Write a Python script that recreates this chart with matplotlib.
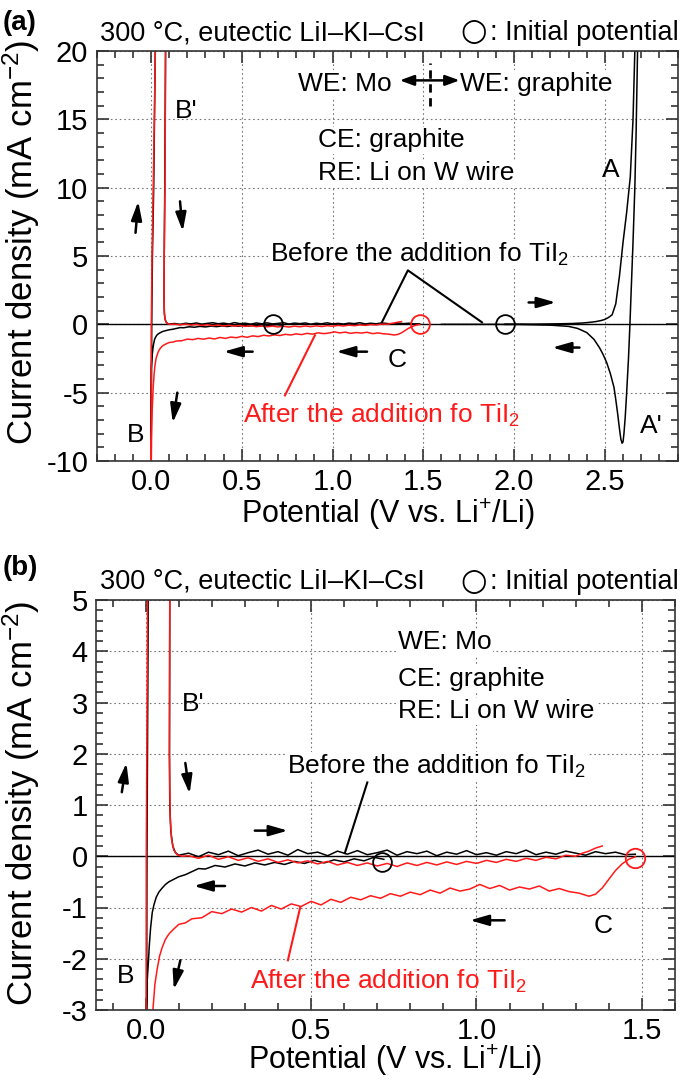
import numpy as np
import matplotlib
matplotlib.use('Agg')
import matplotlib.pyplot as plt
from matplotlib.ticker import MultipleLocator, FormatStrFormatter

plt.rcParams['font.family'] = ['Liberation Sans', 'DejaVu Sans']
plt.rcParams['mathtext.fontset'] = 'custom'
plt.rcParams['mathtext.rm'] = 'Liberation Sans'
plt.rcParams['mathtext.it'] = 'Liberation Sans:italic'
plt.rcParams['mathtext.bf'] = 'Liberation Sans:bold'
plt.rcParams['axes.unicode_minus'] = False

# ---- data (V vs. Li+/Li, mA cm-2) ----
# Mo electrode before TiI2 (black): cathodic branch from initial potential
mo0_lo_v = [0.72, 0.69, 0.66, 0.63, 0.60, 0.57, 0.54, 0.51, 0.48, 0.45, 0.42, 0.39, 0.36, 0.33, 0.30,
            0.27, 0.24, 0.21, 0.18, 0.16, 0.14, 0.12, 0.10, 0.085, 0.07, 0.06, 0.05, 0.04, 0.032, 0.025,
            0.02, 0.015, 0.011, 0.008, 0.005, 0.002, 0.0]
mo0_lo_i = [-0.06, -0.02, -0.09, -0.05, -0.11, -0.07, -0.13, -0.08, -0.14, -0.10, -0.16, -0.12, -0.17, -0.13, -0.19,
            -0.15, -0.21, -0.18, -0.25, -0.24, -0.30, -0.36, -0.40, -0.45, -0.50, -0.55, -0.62, -0.70, -0.80, -0.95,
            -1.10, -1.40, -1.75, -2.10, -2.40, -3.20, -12.0]
# Li deposition / stripping loop near 0 V
mo0_turn_v = [0.004, 0.008, 0.015, 0.022, 0.027, 0.085, 0.080, 0.076, 0.073, 0.072, 0.073, 0.076, 0.082, 0.09]
mo0_turn_i = [0.0, 5.0, 10.0, 18.0, 25.0, 25.0, 20.0, 10.0, 5.0, 2.0, 1.0, 0.5, 0.2, 0.07]
# anodic branch
mo0_up_v = [0.10, 0.13, 0.16, 0.19, 0.22, 0.25, 0.28, 0.31, 0.34, 0.37, 0.40, 0.43, 0.46, 0.49, 0.52, 0.55,
            0.58, 0.61, 0.64, 0.67, 0.70, 0.73, 0.76, 0.79, 0.82, 0.85, 0.88, 0.91, 0.94, 0.97, 1.00, 1.03,
            1.06, 1.09, 1.12, 1.15, 1.18, 1.21, 1.24, 1.27, 1.30, 1.33, 1.36, 1.39, 1.42, 1.45, 1.48]
mo0_up_i = [0.02, 0.06, -0.01, 0.08, 0.03, 0.10, 0.01, 0.07, 0.12, 0.04, 0.09, 0.02, 0.13, 0.05, 0.08, 0.01,
            0.10, 0.04, 0.11, 0.03, 0.07, 0.12, 0.02, 0.09, 0.05, 0.10, 0.01, 0.08, 0.04, 0.11, 0.03, 0.07,
            0.02, 0.09, 0.05, 0.12, 0.03, 0.08, 0.04, 0.10, 0.06, 0.02, 0.09, 0.05, 0.08, 0.03, 0.04]

# Mo electrode after TiI2 (red)
mo1_lo_v = [1.48, 1.46, 1.44, 1.42, 1.40, 1.38, 1.36, 1.34, 1.31, 1.28, 1.25, 1.22, 1.19, 1.16, 1.13, 1.10,
            1.07, 1.04, 1.01, 0.98, 0.95, 0.92, 0.89, 0.86, 0.83, 0.80, 0.77, 0.74, 0.71, 0.68, 0.65, 0.62,
            0.59, 0.56, 0.53, 0.50, 0.47, 0.44, 0.41, 0.38, 0.35, 0.32, 0.29, 0.26, 0.23, 0.20, 0.17, 0.14,
            0.12, 0.10, 0.085, 0.07, 0.06, 0.05, 0.042, 0.035, 0.028, 0.022, 0.017, 0.012, 0.007, 0.003, 0.0]
mo1_lo_i = [-0.01, -0.06, -0.15, -0.28, -0.45, -0.62, -0.74, -0.78, -0.72, -0.69, -0.63, -0.68, -0.58, -0.64,
            -0.60, -0.66, -0.57, -0.63, -0.55, -0.64, -0.68, -0.62, -0.72, -0.66, -0.75, -0.70, -0.78, -0.73,
            -0.82, -0.77, -0.85, -0.80, -0.90, -0.84, -0.95, -0.88, -0.98, -0.93, -1.03, -0.96, -1.07, -1.00,
            -1.09, -1.03, -1.12, -1.08, -1.20, -1.22, -1.30, -1.33, -1.42, -1.52, -1.62, -1.78, -1.95, -2.2,
            -2.5, -3.0, -3.7, -4.7, -6.2, -8.5, -12.0]
mo1_turn_v = [0.002, 0.006, 0.015, 0.024, 0.028, 0.085, 0.081, 0.077, 0.073, 0.072, 0.074, 0.078, 0.085, 0.095, 0.11]
mo1_turn_i = [0.0, 5.0, 12.0, 20.0, 25.0, 25.0, 20.0, 10.0, 5.0, 2.0, 0.8, 0.35, 0.12, 0.03, 0.0]
mo1_up_v = [0.13, 0.16, 0.19, 0.22, 0.25, 0.28, 0.31, 0.34, 0.37, 0.40, 0.43, 0.46, 0.49, 0.52, 0.55, 0.58,
            0.61, 0.64, 0.67, 0.70, 0.73, 0.76, 0.79, 0.82, 0.85, 0.88, 0.91, 0.94, 0.97, 1.00, 1.03, 1.06,
            1.09, 1.12, 1.15, 1.18, 1.21, 1.24, 1.27, 1.30, 1.32, 1.34, 1.36, 1.38]
mo1_up_i = [0.01, -0.04, 0.02, -0.06, -0.01, -0.08, -0.03, -0.10, -0.05, -0.12, -0.07, -0.13, -0.09, -0.15,
            -0.10, -0.17, -0.12, -0.18, -0.13, -0.19, -0.14, -0.20, -0.13, -0.18, -0.12, -0.17, -0.11, -0.16,
            -0.10, -0.14, -0.08, -0.12, -0.06, -0.10, -0.04, -0.08, -0.02, -0.05, 0.02, 0.00, 0.06, 0.10,
            0.16, 0.20]

# graphite electrode before TiI2 (black, panel a only)
gr_v = [1.95, 2.05, 2.15, 2.25, 2.32, 2.38, 2.42, 2.45, 2.48, 2.50, 2.52, 2.54, 2.56, 2.58, 2.60, 2.62, 2.64,
        2.655, 2.665, 2.675, 2.69, 2.685, 2.68, 2.672, 2.665, 2.655, 2.645, 2.638, 2.63, 2.62, 2.612, 2.605,
        2.60, 2.595, 2.588, 2.58, 2.57, 2.56, 2.55, 2.53, 2.51, 2.49, 2.47, 2.44, 2.40, 2.35, 2.30, 2.20,
        2.05, 1.90, 1.75, 1.60]
gr_i = [0.0, 0.01, 0.02, 0.04, 0.06, 0.10, 0.15, 0.20, 0.28, 0.36, 0.50, 0.70, 1.5, 3.5, 6.0, 8.2, 10.8,
        15.0, 20.0, 23.0, 25.0, 22.0, 20.0, 14.0, 10.0, 6.0, 2.5, 0.0, -2.5, -5.0, -6.8, -8.0,
        -8.6, -8.7, -8.4, -7.6, -6.5, -5.5, -4.6, -3.6, -2.8, -2.2, -1.7, -1.1, -0.6, -0.3, -0.15, -0.06,
        -0.02, 0.0, 0.0, 0.0]

# initial potentials (open circles)
init_a_black = ([0.67, 1.95], [0.0, 0.0])
init_a_red = ([1.48], [0.0])
init_b_black = ([0.715], [-0.11])
init_b_red = ([1.48], [-0.04])

RED = '#ff1a1a'

fig = plt.figure(figsize=(6.85, 10.84), dpi=100)
W, H = 685.0, 1084.0
ax_a = fig.add_axes([96.5 / W, 1 - 461 / H, 581 / W, 410 / H])
ax_b = fig.add_axes([96.0 / W, 1 - 1010 / H, 579 / W, 410 / H])


def style(ax, xlim, ylim, ymaj, ymin):
    ax.set_xlim(*xlim)
    ax.set_ylim(*ylim)
    ax.xaxis.set_major_locator(MultipleLocator(0.5))
    ax.xaxis.set_minor_locator(MultipleLocator(0.1))
    ax.yaxis.set_major_locator(MultipleLocator(ymaj))
    ax.yaxis.set_minor_locator(MultipleLocator(ymin))
    ax.xaxis.set_major_formatter(FormatStrFormatter('%.1f'))
    ax.yaxis.set_major_formatter(FormatStrFormatter('%d'))
    ax.tick_params(which='both', direction='in', top=True, right=True, width=1.2,
                   color='#333333', labelsize=21, pad=6)
    ax.tick_params(axis='x', pad=5)
    ax.tick_params(which='major', length=8.5)
    ax.tick_params(which='minor', length=5)
    ax.grid(True, which='major', color='#777777', linestyle=(0, (1.5, 2.5)), lw=0.8)
    ax.axhline(0, color='k', lw=1.0, zorder=1.6)
    for s in ax.spines.values():
        s.set_linewidth(1.2)
        s.set_color('#333333')


def arrow(ax, tail, head):
    ax.annotate('', xy=head, xytext=tail,
                arrowprops=dict(arrowstyle='-|>,head_length=0.7,head_width=0.2',
                                color='k', lw=1.8, shrinkA=0, shrinkB=0, mutation_scale=16), zorder=5)


box = dict(facecolor='white', edgecolor='none', pad=1.0)

# ---------------- panel (a) ----------------
ax = ax_a
style(ax, (-0.3, 2.9), (-10, 20), 5, 1)
ax.plot(mo0_lo_v + mo0_turn_v + mo0_up_v, mo0_lo_i + mo0_turn_i + mo0_up_i, color='k', lw=1.1, zorder=2)
ax.plot(gr_v, gr_i, color='k', lw=1.1, zorder=2)
ax.plot(mo1_lo_v + mo1_turn_v + mo1_up_v, mo1_lo_i + mo1_turn_i + mo1_up_i, color=RED, lw=1.1, zorder=2.2)
ax.plot(*init_a_black, 'o', ms=13.5, mfc='none', mec='k', mew=1.3, zorder=4)
ax.plot(*init_a_red, 'o', ms=13.5, mfc='none', mec=RED, mew=1.3, zorder=4)

ax.text(0.81, 17.1, 'WE: Mo', fontsize=19, bbox=box, zorder=3)
ax.text(1.70, 17.1, 'WE: graphite', fontsize=19, bbox=box, zorder=3)
ax.annotate('', xy=(1.37, 17.85), xytext=(1.70, 17.85),
            arrowprops=dict(arrowstyle='<|-|>,head_length=0.6,head_width=0.22', color='k', lw=1.8,
                            shrinkA=0, shrinkB=0, mutation_scale=14), zorder=5)
ax.plot([1.535, 1.535], [16.0, 19.1], color='k', lw=2.0, dashes=(3, 2), zorder=5)
ax.text(0.92, 12.95, 'CE: graphite', fontsize=19, bbox=box, zorder=3)
ax.text(0.92, 10.53, 'RE: Li on W wire', fontsize=19, bbox=box, zorder=3)
ax.text(2.483, 10.75, 'A', fontsize=19)
ax.text(2.693, -7.97, "A'", fontsize=19)
ax.text(0.132, 15.07, "B'", fontsize=19)
ax.text(-0.132, -8.63, 'B', fontsize=19)
ax.text(1.305, -3.15, 'C', fontsize=19)
ax.text(0.655, 4.6, 'Before the addition fo TiI$_2$', fontsize=19, bbox=box, zorder=3)
ax.plot([1.272, 1.415, 1.823], [0.15, 3.95, 0.15], color='k', lw=1.5, zorder=4)
ax.text(0.507, -7.24, 'After the addition fo TiI$_2$', fontsize=19, color=RED)
ax.plot([0.738, 0.903], [-5.2, -0.8], color=RED, lw=1.5, zorder=4)

arrow(ax, (-0.085, 6.7), (-0.07, 9.0))
arrow(ax, (0.16, 9.0), (0.175, 6.8))
arrow(ax, (0.56, -2.0), (0.40, -2.0))
arrow(ax, (1.19, -2.0), (1.02, -2.0))
arrow(ax, (0.145, -5.0), (0.12, -7.2))
arrow(ax, (2.08, 1.6), (2.23, 1.6))
arrow(ax, (2.36, -1.7), (2.21, -1.7))

# ---------------- panel (b) ----------------
ax = ax_b
style(ax, (-0.15, 1.6), (-3, 5), 1, 0.2)
ax.plot(mo0_lo_v + mo0_turn_v + mo0_up_v, mo0_lo_i + mo0_turn_i + mo0_up_i, color='k', lw=1.1, zorder=2)
ax.plot(mo1_lo_v + mo1_turn_v + mo1_up_v, mo1_lo_i + mo1_turn_i + mo1_up_i, color=RED, lw=1.1, zorder=2.2)
ax.plot(*init_b_black, 'o', ms=13.5, mfc='none', mec='k', mew=1.3, zorder=4)
ax.plot(*init_b_red, 'o', ms=14, mfc='none', mec=RED, mew=1.3, zorder=4)

ax.text(0.764, 4.04, 'WE: Mo', fontsize=19, bbox=box, zorder=3)
ax.text(0.764, 3.32, 'CE: graphite', fontsize=19, bbox=box, zorder=3)
ax.text(0.764, 2.69, 'RE: Li on W wire', fontsize=19, bbox=box, zorder=3)
ax.text(0.11, 2.83, "B'", fontsize=19)
ax.text(-0.087, -2.48, 'B', fontsize=19)
ax.text(1.353, -1.5, 'C', fontsize=19)
ax.text(0.427, 1.6, 'Before the addition fo TiI$_2$', fontsize=19, bbox=box, zorder=3)
ax.plot([0.67, 0.602], [1.44, 0.06], color='k', lw=1.5, zorder=4)
ax.text(0.315, -2.58, 'After the addition fo TiI$_2$', fontsize=19, color=RED)
ax.plot([0.43, 0.467], [-2.03, -1.0], color=RED, lw=1.5, zorder=4)

arrow(ax, (-0.072, 1.25), (-0.058, 1.82))
arrow(ax, (0.12, 1.82), (0.133, 1.22))
arrow(ax, (0.33, 0.5), (0.43, 0.5))
arrow(ax, (0.24, -0.58), (0.145, -0.58))
arrow(ax, (0.105, -2.03), (0.085, -2.6))
arrow(ax, (1.085, -1.25), (0.98, -1.25))

# ---------------- labels and headers ----------------
for base, lab in [(30, '(a)'), (575, '(b)')]:
    fig.text(3 / W, 1 - base / H, lab, fontsize=20, fontweight='bold', va='baseline')
for base in (40, 589):
    fig.text(100 / W, 1 - base / H, '300 °C, eutectic LiI–KI–CsI', fontsize=19.5, va='baseline')
    fig.text(474 / W, 1 - (base - 8) / H, '○', fontsize=22, family='DejaVu Sans',
             ha='center', va='center')
    fig.text(679 / W, 1 - base / H, ': Initial potential', fontsize=19.5, va='baseline', ha='right')

ylab = 'Current density (mA cm$^{-2}$)'
xlab = 'Potential (V vs. Li$^{+}$/Li)'
fig.text(21 / W, 1 - 242 / H, ylab, fontsize=25, rotation=90, ha='center', va='center')
fig.text(21 / W, 1 - 803 / H, ylab, fontsize=25, rotation=90, ha='center', va='center')
fig.text(388 / W, 1 - 514 / H, xlab, fontsize=22, ha='center', va='center')
fig.text(395 / W, 1 - 1060 / H, xlab, fontsize=22, ha='center', va='center')

fig.savefig('out.png', dpi=100)
